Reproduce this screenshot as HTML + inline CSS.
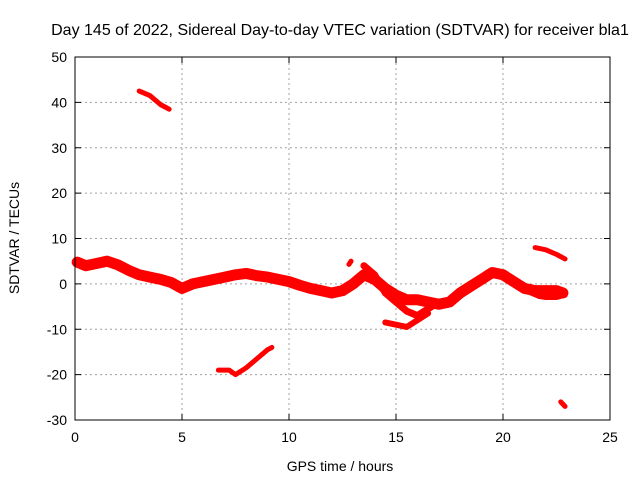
<!DOCTYPE html>
<html><head><meta charset="utf-8"><style>
body{margin:0;background:#fff;}
svg{display:block;font-family:"Liberation Sans",sans-serif;font-size:14px;}
</style></head><body>
<svg id="chart" width="640" height="480">
<text x="340" y="35" text-anchor="middle" style="font-size:16px">Day 145 of 2022, Sidereal Day-to-day VTEC variation (SDTVAR) for receiver bla1</text>
<text x="340" y="471" text-anchor="middle">GPS time / hours</text>
<text transform="translate(19,238) rotate(-90)" text-anchor="middle">SDTVAR / TECUs</text>
<g id="grid"></g><g id="marks"></g><g id="axes"></g>
</svg>
<script>
const xTicks=[0,5,10,15,20,25];
const yTicks=[-30,-20,-10,0,10,20,30,40,50];
const mainBandT=[0.1,0.5,1,1.5,2,2.5,3,3.5,4,4.5,5,5.5,6,6.5,7,7.5,8,8.5,9,9.5,10,10.5,11,11.5,12,12.5,13,13.5,14,14.5,15,15.5,16,16.5,17,17.5,18,18.5,19,19.5,20,20.5,21,21.5,22,22.5,22.8];
const mainBandV=[4.8,4,4.5,5,4.2,3,2,1.5,1,0.3,-1,0,0.5,1,1.5,2,2.3,1.8,1.5,1,0.5,-0.3,-1,-1.5,-2,-1.5,0,2,1,-1,-2.5,-3.5,-3.5,-4,-4.5,-4,-2,-0.5,1,2.5,2,0.5,-1,-1.5,-1.5,-1.5,-2];
const branchT=[13.5,14,14.5,15,15.5,16,16.5,17];
const branchV=[4,2,-2,-4,-6,-7,-5.5,-4];
const lowerT=[14.5,15,15.5,16,16.5];
const lowerV=[-8.5,-9,-9.5,-8,-6.5];
const loopT=[21.3,21.7,22,22.5,22.9];
const loopV=[-2,-2.8,-3,-3,-2.5];
const highT=[3,3.5,4,4.4];
const highV=[42.5,41.5,39.5,38.5];
const dipT=[6.7,7.2,7.5,8,8.5,9,9.2];
const dipV=[-19,-19,-20,-18.5,-16.5,-14.5,-14];
const lateT=[21.5,22,22.5,22.9];
const lateV=[8,7.5,6.5,5.5];
const lowT=[22.7,22.9];
const lowV=[-26,-27];
const spikeT=[12.8,12.9];
const spikeV=[4.3,5];
const X0=75,X1=610,Y0=420,Y1=57;
const sx=t=>X0+(t-0)/(25-0)*(X1-X0);
const sy=v=>Y0-(v+30)/(80)*(Y0-Y1);
const NS="http://www.w3.org/2000/svg";
const grid=document.getElementById('grid'),axes=document.getElementById('axes'),marks=document.getElementById('marks');
function mk(tag,attrs,parent){const e=document.createElementNS(NS,tag);for(const k in attrs)e.setAttribute(k,attrs[k]);parent.appendChild(e);return e;}
xTicks.forEach(t=>{
  if(t>0&&t<25){const g=mk('line',{x1:sx(t),x2:sx(t),y1:Y0,y2:Y1,stroke:'#a0a0a0','stroke-dasharray':'2,3'},grid);
  
  }
  mk('line',{x1:sx(t),x2:sx(t),y1:Y0,y2:Y0-6,stroke:'#000'},axes);
  mk('line',{x1:sx(t),x2:sx(t),y1:Y1,y2:Y1+6,stroke:'#000'},axes);
  const l=mk('text',{x:sx(t),y:Y0+22,'text-anchor':'middle'},axes);l.textContent=t;
  
  
});
yTicks.forEach(v=>{
  if(v>-30&&v<50){const g=mk('line',{x1:X0,x2:X1,y1:sy(v),y2:sy(v),stroke:'#a0a0a0','stroke-dasharray':'2,3'},grid);
  
  }
  mk('line',{x1:X0,x2:X0+6,y1:sy(v),y2:sy(v),stroke:'#000'},axes);
  mk('line',{x1:X1,x2:X1-6,y1:sy(v),y2:sy(v),stroke:'#000'},axes);
  const l=mk('text',{x:X0-8,y:sy(v)+5,'text-anchor':'end'},axes);l.textContent=v;
  
  
});
const b=mk('rect',{x:X0,y:Y1,width:X1-X0,height:Y0-Y1,fill:'none',stroke:'#000'},axes);


function series(T,V,w,name){
  const p=mk('polyline',{points:T.map((t,i)=>sx(t)+','+sy(V[i])).join(' '),fill:'none',stroke:'#f00','stroke-width':w,'stroke-linejoin':'round','stroke-linecap':'round'},marks);
  
  
}
series(mainBandT,mainBandV,11,'series-main-band');
series(branchT,branchV,7,'series-branch');
series(lowerT,lowerV,6,'series-lower-branch');
series(loopT,loopV,5,'series-loop');
series(highT,highV,5,'series-high');
series(dipT,dipV,5,'series-dip');
series(lateT,lateV,5,'series-late');
series(lowT,lowV,5,'series-low');
series(spikeT,spikeV,5,'series-spike');
</script>
</body></html>
